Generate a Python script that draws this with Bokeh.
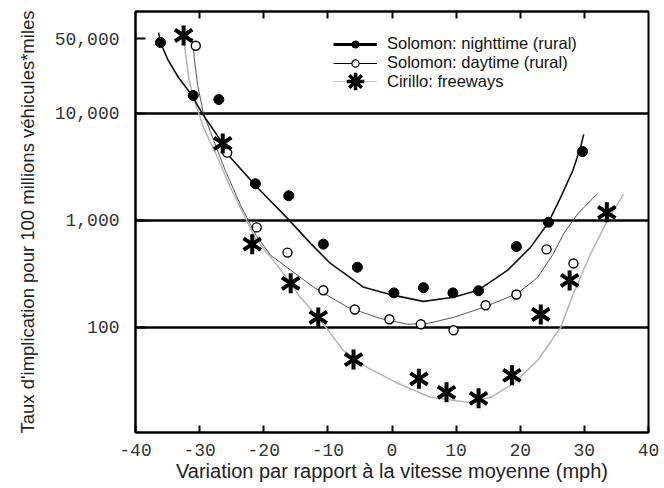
import math
from bokeh.plotting import figure
from bokeh.models import (FixedTicker, NumeralTickFormatter, LinearAxis, Legend, LegendItem,
                          ColumnDataSource)
from bokeh.embed import file_html
from bokeh.resources import INLINE

# Observed involvement rates (per 100 million vehicle-miles) vs. speed deviation (mph)
night_x = [-36.1, -31.0, -27.0, -21.3, -16.1, -10.7, -5.4, 0.3, 4.9, 9.5, 13.5, 19.4, 24.4, 29.7]
night_y = [46000, 14700, 13500, 2200, 1700, 600, 365, 210, 235, 210, 220, 570, 960, 4400]

day_x = [-30.6, -25.7, -21.1, -16.3, -10.7, -5.8, -0.4, 4.5, 9.6, 14.6, 19.4, 24.1, 28.3]
day_y = [43000, 4300, 860, 500, 222, 147, 119, 107, 94, 161, 203, 536, 396]

fwy_x = [-32.5, -26.4, -21.8, -15.8, -11.5, -6.0, 4.2, 8.5, 13.5, 18.7, 23.2, 27.7, 33.5]
fwy_y = [53600, 5250, 600, 258, 124, 50, 33, 24.7, 21.7, 35.6, 132, 275, 1190]

# Smoothed trend curves
night_curve_x = [-36.4, -36.1, -34.9, -33.3, -31.4, -29.6, -26.4, -25.2, -21.0, -16.3, -12.7, -9.6,
                 -4.4, 0.3, 4.9, 9.6, 13.4, 18.0, 21.6, 24.4, 26.3, 28.2, 29.4, 29.9]
night_curve_y = [57100, 46100, 31300, 21700, 15400, 10000, 5250, 3880, 2030, 1045, 610, 396,
                 237, 199, 175, 191, 222, 341, 560, 957, 1640, 2930, 4810, 6370]

day_curve_x = [-31.1, -30.8, -30.3, -29.4, -27.8, -26.0, -23.6, -21.2, -18.9, -16.6, -12.2, -6.9,
               -1.8, 2.4, 5.6, 9.6, 14.3, 19.6, 22.7, 25.2, 26.8, 29.0, 32.1]
day_curve_y = [50200, 31300, 18300, 10000, 5600, 2930, 1380, 725, 471, 372, 237, 154,
               121, 107, 109, 124, 154, 208, 293, 492, 757, 1160, 1790]

fwy_curve_x = [-32.5, -32.2, -31.7, -31.1, -30.3, -29.4, -27.2, -25.2, -23.2, -21.3, -18.5, -15.8,
               -14.3, -11.1, -7.6, -3.8, 0.9, 6.0, 11.8, 15.4, 19.0, 22.7, 26.3, 28.3, 31.0, 33.6, 36.1]
fwy_curve_y = [53600, 36400, 21700, 14700, 10700, 7390, 3880, 2030, 1160, 679, 423, 258,
               191, 116, 61, 42, 30, 22.2, 19.9, 22.2, 30, 49, 100, 208, 492, 1000, 1750]

x_ticks = [-40, -30, -20, -10, 0, 10, 20, 30, 40]
y_ticks = [100, 1000, 10000, 50000]
y_rules = [100, 1000, 10000]

labels = ["Solomon: nighttime (rural)", "Solomon: daytime (rural)", "Cirillo: freeways"]
x_title = "Variation par rapport à la vitesse moyenne (mph)"
y_title = "Taux d'implication pour 100 millions véhicules*miles"

TICK_FONT = "Liberation Mono"
TEXT_FONT = "Liberation Sans"
X_LO, X_HI = -40, 40
Y_LO, Y_HI = 10.4, 89800

p = figure(width=664, height=488, x_range=(X_LO, X_HI), y_range=(Y_LO, Y_HI),
           y_axis_type="log", output_backend="svg", toolbar_location=None,
           min_border_left=135, min_border_right=16, min_border_top=11, min_border_bottom=56)

p.background_fill_color = "white"
p.border_fill_color = "white"
p.outline_line_color = "black"
p.outline_line_width = 2

# horizontal reference rules
p.xgrid.visible = False
p.ygrid.ticker = FixedTicker(ticks=y_rules)
p.ygrid.grid_line_color = "black"
p.ygrid.grid_line_width = 2.5
p.ygrid.level = "underlay"

# bottom axis, ticks pointing inward
p.xaxis.ticker = FixedTicker(ticks=x_ticks)
p.xaxis.major_label_overrides = {t: str(t) for t in x_ticks}
p.xaxis.major_tick_in = 7
p.xaxis.major_tick_out = 0
p.xaxis.major_tick_line_width = 2
p.xaxis.major_tick_line_color = "black"
p.xaxis.minor_tick_line_color = None
p.xaxis.axis_line_width = 2
p.xaxis.major_label_text_font = TICK_FONT
p.xaxis.major_label_text_font_size = "18px"
p.xaxis.major_label_text_color = "#333333"
p.xaxis.major_label_standoff = 11
p.xaxis.axis_label = x_title
p.xaxis.axis_label_text_font = TEXT_FONT
p.xaxis.axis_label_text_font_style = "normal"
p.xaxis.axis_label_text_font_size = "20px"
p.xaxis.axis_label_text_color = "#222222"
p.xaxis.axis_label_standoff = 1

# left axis, ticks pointing inward
p.yaxis.ticker = FixedTicker(ticks=y_ticks)
p.yaxis.formatter = NumeralTickFormatter(format="0,0")
p.yaxis.major_tick_in = 10
p.yaxis.major_tick_out = 0
p.yaxis.major_tick_line_width = 2
p.yaxis.major_tick_line_color = "black"
p.yaxis.minor_tick_line_color = None
p.yaxis.axis_line_width = 2
p.yaxis.major_label_text_font = TICK_FONT
p.yaxis.major_label_text_font_size = "18px"
p.yaxis.major_label_text_color = "#333333"
p.yaxis.major_label_standoff = 16
p.yaxis.axis_label = y_title
p.yaxis.axis_label_text_font = TEXT_FONT
p.yaxis.axis_label_text_font_style = "normal"
p.yaxis.axis_label_text_font_size = "18.5px"
p.yaxis.axis_label_text_color = "#222222"
p.yaxis.axis_label_standoff = 14

# mirrored inward ticks along the top edge, without labels
top_axis = LinearAxis(ticker=FixedTicker(ticks=x_ticks[1:-1]), major_tick_in=7, major_tick_out=0,
                      major_tick_line_width=2, major_tick_line_color="black",
                      minor_tick_line_color=None, axis_line_width=2,
                      major_label_text_font_size="1px", major_label_text_alpha=0,
                      major_label_standoff=0)
p.add_layout(top_axis, "above")

night_pts = ColumnDataSource(dict(x=night_x, y=night_y))
day_pts = ColumnDataSource(dict(x=day_x, y=day_y))
fwy_pts = ColumnDataSource(dict(x=fwy_x, y=fwy_y))
night_fit = ColumnDataSource(dict(x=night_curve_x, y=night_curve_y))
day_fit = ColumnDataSource(dict(x=day_curve_x, y=day_curve_y))
fwy_fit = ColumnDataSource(dict(x=fwy_curve_x, y=fwy_curve_y))

# trend curves
p.line("x", "y", source=fwy_fit, line_color="#b4b4b4", line_width=1.5)
p.line("x", "y", source=day_fit, line_color="#555555", line_width=1)
p.line("x", "y", source=night_fit, line_color="#111111", line_width=1.6)

# observed points
STAR = dict(marker="y", size=20, line_color="black", line_width=4)
p.scatter("x", "y", source=night_pts, marker="circle", size=10, fill_color="black", line_color="black")
p.scatter("x", "y", source=day_pts, marker="circle", size=9, fill_color="white",
          line_color="black", line_width=1.4)
for ang in (0, math.pi):
    p.scatter("x", "y", source=fwy_pts, angle=ang, **STAR)

# legend keys: styled copies that stay hidden in the frame
k1l = p.line("x", "y", source=night_fit, visible=False, line_color="black", line_width=3)
k1m = p.scatter("x", "y", source=night_pts, visible=False, marker="circle", size=8,
                fill_color="black", line_color="black")
k2l = p.line("x", "y", source=day_fit, visible=False, line_color="black", line_width=1.2)
k2m = p.scatter("x", "y", source=day_pts, visible=False, marker="circle", size=7,
                fill_color="white", line_color="black", line_width=1.2)
k3l = p.line("x", "y", source=fwy_fit, visible=False, line_color="#c8c8c8", line_width=1)
k3m = p.scatter("x", "y", source=fwy_pts, visible=False, marker="asterisk", size=20,
                line_color="black", line_width=3.5)

LEG = dict(border_line_color=None, background_fill_alpha=0, padding=0, margin=0, spacing=0,
           glyph_width=44, label_standoff=10, label_text_font=TEXT_FONT,
           label_text_font_size="16.5px", label_text_color="#111111",
           click_policy="none", inactive_fill_alpha=0)

legend_a = Legend(items=[LegendItem(label=labels[0], renderers=[k1l, k1m]),
                         LegendItem(label=labels[1], renderers=[k2l, k2m])],
                  location=(198, 360), glyph_height=18, label_height=18, **LEG)
# taller key box so the asterisk keeps its full size
legend_b = Legend(items=[LegendItem(label=labels[2], renderers=[k3l, k3m])],
                  location=(198, 328), glyph_height=46, label_height=46, **LEG)
p.add_layout(legend_a)
p.add_layout(legend_b)

open("out.html", "w").write(file_html(p, INLINE))
